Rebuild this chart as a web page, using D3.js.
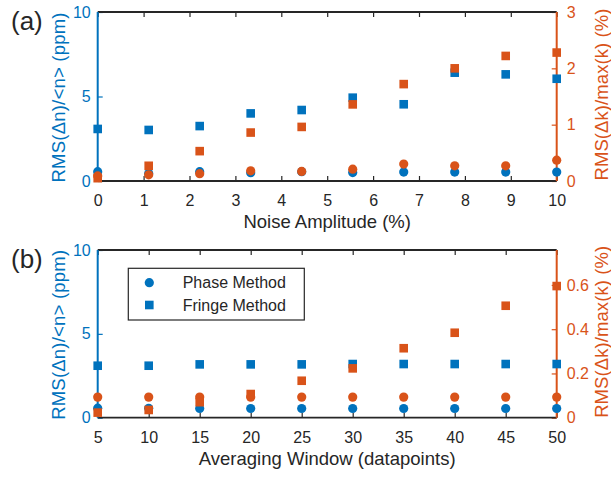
<!DOCTYPE html>
<html><head><meta charset="utf-8">
<script src="https://cdn.jsdelivr.net/npm/d3@7"></script>
<style>
body{margin:0;background:#fff}
text{font-family:"Liberation Sans",Arial,Helvetica,sans-serif}
</style>
</head><body>
<svg id="chart" width="611" height="478"></svg>
<script>
// (a) errors versus injected noise amplitude
const noiseAmplitude = [0, 1.111, 2.222, 3.333, 4.444, 5.556, 6.667, 7.778, 8.889, 10];
const noisePhaseN   = [0.55, 0.45, 0.55, 0.49, 0.55, 0.50, 0.53, 0.53, 0.53, 0.53];
const noiseFringeN  = [3.08, 3.02, 3.25, 4.00, 4.20, 4.93, 4.54, 6.41, 6.31, 6.05];
const noisePhaseK   = [0.09, 0.11, 0.13, 0.18, 0.17, 0.21, 0.30, 0.27, 0.27, 0.37];
const noiseFringeK  = [0.05, 0.27, 0.53, 0.86, 0.96, 1.36, 1.72, 2.00, 2.22, 2.28];

// (b) errors versus averaging window length
const averagingWindow = [5, 10, 15, 20, 25, 30, 35, 40, 45, 50];
const windowPhaseN  = [0.57, 0.56, 0.55, 0.55, 0.55, 0.55, 0.55, 0.55, 0.55, 0.55];
const windowFringeN = [3.10, 3.10, 3.18, 3.18, 3.18, 3.20, 3.20, 3.20, 3.20, 3.20];
const windowPhaseK  = [0.093, 0.093, 0.093, 0.093, 0.093, 0.093, 0.093, 0.093, 0.093, 0.093];
const windowFringeK = [0.023, 0.035, 0.070, 0.107, 0.167, 0.223, 0.314, 0.384, 0.506, 0.595];

// tick values
const noiseTicks  = [0, 1, 2, 3, 4, 5, 6, 7, 8, 9, 10];
const windowTicks = [5, 10, 15, 20, 25, 30, 35, 40, 45, 50];
const leftTicks   = [0, 5, 10];
const rightTicksA = [0, 1, 2, 3];
const rightTicksB = [0, 0.2, 0.4, 0.6];

const legendLabels = ["Phase Method", "Fringe Method"];

const BLUE = "#0072BD", ORANGE = "#D95319", DARK = "#262626";
const svg = d3.select("#chart");
const X0 = 97.7, X1 = 556.7;

function drawPanel(o) {
  const x  = d3.scaleLinear().domain(o.xDomain).range([X0, X1]);
  const yL = d3.scaleLinear().domain([0, 10]).range([o.yBot, o.yTop]);
  const yR = d3.scaleLinear().domain(o.rDomain).range([o.yBot, o.yTop]);
  const g = svg.append("g");

  // bottom axis with inward ticks
  const bx = g.append("g").attr("transform", `translate(0,${o.yBot})`)
    .call(d3.axisBottom(x).tickValues(o.xTicks).tickSizeInner(-5).tickSizeOuter(0).tickPadding(13.5));
  // top axis, ticks only
  const tx = g.append("g").attr("transform", `translate(0,${o.yTop})`)
    .call(d3.axisTop(x).tickValues(o.xTicks).tickSizeInner(-5).tickSizeOuter(0).tickFormat(""));
  const ly = g.append("g").attr("transform", `translate(${X0},0)`)
    .call(d3.axisLeft(yL).tickValues(leftTicks).tickSizeInner(-5).tickSizeOuter(0).tickPadding(7));
  const ry = g.append("g").attr("transform", `translate(${X1},0)`)
    .call(d3.axisRight(yR).tickValues(o.rTicks).tickSizeInner(-5).tickSizeOuter(0).tickPadding(10)
      .tickFormat(d => d === 0 ? "0" : String(d)));

  [bx, tx, ly, ry].forEach(a => { a.select(".domain").remove(); a.selectAll("text").attr("font-size", 16).attr("font-family", null); });
  [bx, tx].forEach(a => { a.selectAll("line").attr("stroke", DARK).attr("stroke-width", 1.2); a.selectAll("text").attr("fill", DARK); });
  ly.selectAll("line").attr("stroke", BLUE).attr("stroke-width", 1.2);
  ly.selectAll("text").attr("fill", BLUE);
  ry.selectAll("line").attr("stroke", ORANGE).attr("stroke-width", 1.2);
  ry.selectAll("text").attr("fill", ORANGE);

  // axis frame
  g.append("line").attr("x1", X0).attr("x2", X1).attr("y1", o.yTop).attr("y2", o.yTop).attr("stroke", DARK).attr("stroke-width", 1.8);
  g.append("line").attr("x1", X0).attr("x2", X1).attr("y1", o.yBot).attr("y2", o.yBot).attr("stroke", DARK).attr("stroke-width", 1.8);
  g.append("line").attr("x1", X0).attr("x2", X0).attr("y1", o.yTop).attr("y2", o.yBot).attr("stroke", BLUE).attr("stroke-width", 2);
  g.append("line").attr("x1", X1).attr("x2", X1).attr("y1", o.yTop).attr("y2", o.yBot).attr("stroke", ORANGE).attr("stroke-width", 2);

  // markers
  const circ = (vals, y, color) => g.append("g").selectAll("circle").data(vals).join("circle")
    .attr("cx", (d, i) => x(o.xs[i])).attr("cy", d => y(d)).attr("r", 4.6).attr("fill", color);
  const sq = (vals, y, color) => g.append("g").selectAll("rect").data(vals).join("rect")
    .attr("x", (d, i) => x(o.xs[i]) - 4.3).attr("y", d => y(d) - 4.3)
    .attr("width", 8.6).attr("height", 8.6).attr("fill", color);
  circ(o.phaseN, yL, BLUE);
  sq(o.fringeN, yL, BLUE);
  circ(o.phaseK, yR, ORANGE);
  sq(o.fringeK, yR, ORANGE);

  // labels
  const midY = (o.yTop + o.yBot) / 2;
  g.append("text").attr("x", (X0 + X1) / 2).attr("y", o.yBot + 47).attr("text-anchor", "middle")
    .attr("font-size", 18.5).attr("fill", DARK).text(o.xLabel);
  g.append("text").attr("transform", `translate(58.5,${midY + 1}) rotate(-90)`).attr("text-anchor", "middle")
    .attr("dominant-baseline", "central").attr("font-size", 18.5).attr("fill", BLUE)
    .attr("textLength", 170).attr("lengthAdjust", "spacing").text("RMS(\u0394n)/<n> (ppm)");
  g.append("text").attr("transform", `translate(601.5,${midY - 2}) rotate(-90)`).attr("text-anchor", "middle")
    .attr("dominant-baseline", "central").attr("font-size", 18.5).attr("fill", ORANGE)
    .attr("textLength", 172).attr("lengthAdjust", "spacing").text("RMS(\u0394k)/max(k) (%)");
  g.append("text").attr("x", 11).attr("y", o.yTop + 18).attr("font-size", 26).attr("fill", DARK).text(o.tag);
  return { x, yL, yR };
}

drawPanel({
  yTop: 12, yBot: 181, xDomain: [0, 10], xTicks: noiseTicks, xs: noiseAmplitude,
  rDomain: [0, 3], rTicks: rightTicksA,
  phaseN: noisePhaseN, fringeN: noiseFringeN, phaseK: noisePhaseK, fringeK: noiseFringeK,
  xLabel: "Noise Amplitude (%)", tag: "(a)"
});
drawPanel({
  yTop: 250, yBot: 417.7, xDomain: [5, 50], xTicks: windowTicks, xs: averagingWindow,
  rDomain: [0, 0.758], rTicks: rightTicksB,
  phaseN: windowPhaseN, fringeN: windowFringeN, phaseK: windowPhaseK, fringeK: windowFringeK,
  xLabel: "Averaging Window (datapoints)", tag: "(b)"
});

// legend for panel (b)
const lg = svg.append("g");
lg.append("rect").attr("x", 128.3).attr("y", 268.3).attr("width", 176).attr("height", 51.7)
  .attr("fill", "#fff").attr("stroke", DARK).attr("stroke-width", 1.2);
lg.append("circle").attr("cx", 149.3).attr("cy", 282.7).attr("r", 4.6).attr("fill", BLUE);
lg.append("rect").attr("x", 149.3 - 4.3).attr("y", 305 - 4.3).attr("width", 8.6).attr("height", 8.6).attr("fill", BLUE);
lg.selectAll("text.lab").data(legendLabels).join("text").attr("class", "lab")
  .attr("x", 182.7).attr("y", (d, i) => [282.7, 305][i]).attr("dominant-baseline", "central")
  .attr("font-size", 16).attr("fill", DARK).text(d => d);
</script>
</body></html>
